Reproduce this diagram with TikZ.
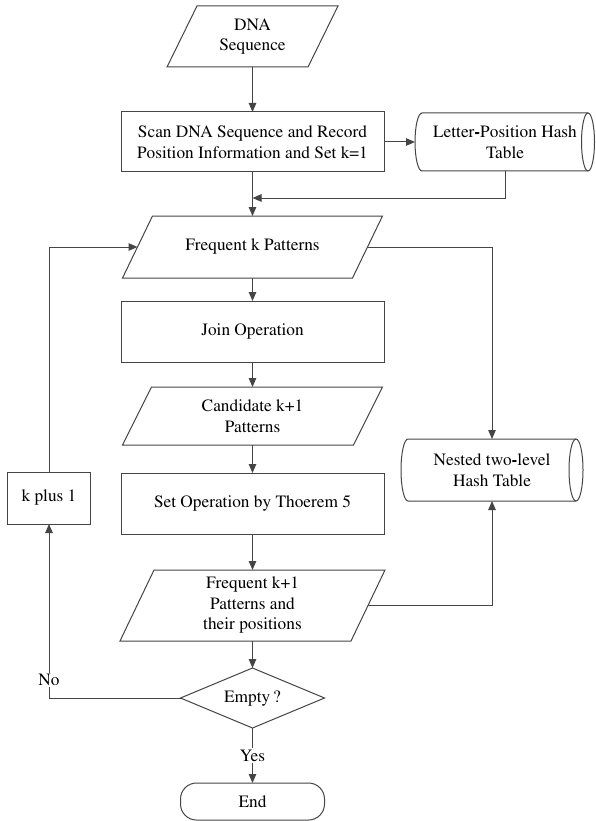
\documentclass[tikz,border=0pt]{standalone}
\usepackage[T1]{fontenc}
\usepackage{mathptmx}
\usetikzlibrary{arrows.meta,calc}
\definecolor{lc}{HTML}{454545}
\newcommand{\drawpara}[2]{\draw[line] ($(#1.north west)+(#2,0)$) -- (#1.north east) -- ($(#1.south east)+(-#2,0)$) -- (#1.south west) -- cycle;}
\newcommand{\bhy}{\textbf{-}}
\begin{document}
\begin{tikzpicture}[x=1pt,y=-1pt,
  line/.style={draw=lc, line width=1pt},
  arr/.style={line, -{Triangle[length=9pt,width=7.5pt]}},
  txt/.style={font=\rmfamily\fontsize{17.3}{20.5}\selectfont, align=center, text=black, inner sep=0pt, outer sep=0pt},
  hid/.style={txt, rectangle},
  boxn/.style={txt, rectangle, line},
  lbl/.style={txt, fill=white, inner sep=1.5pt}]
\fill[white] (0,0) rectangle (596,821);
\useasboundingbox (0,0) rectangle (596,821);

% nodes
\node[hid, minimum width=171pt, minimum height=61pt] (dna) at (252.5,36.5) {DNA\\Sequence};
\node[boxn, minimum width=263pt, minimum height=60pt] (scan) at (252.5,142) {Scan DNA Sequence and Record\\Position Information and Set k=1};
\node[hid, minimum width=166pt, minimum height=58pt] (lp) at (505,142) {Letter\bhy Position Hash\\Table};
\node[hid, minimum width=260pt, minimum height=62pt] (fk) at (252.5,247) {Frequent k Patterns};
\node[boxn, minimum width=263pt, minimum height=61pt] (join) at (252.5,331.5) {Join Operation};
\node[hid, minimum width=260pt, minimum height=58pt] (cand) at (252.5,416) {Candidate k+1\\Patterns};
\node[boxn, minimum width=263pt, minimum height=61pt] (setop) at (252.5,503.5) {Set Operation by Thoerem 5};
\node[hid, minimum width=265pt, minimum height=71pt] (fk1) at (252.5,605.5) {Frequent k+1\\Patterns and\\their positions};
\node[hid, minimum width=144pt, minimum height=60pt] (empty) at (252.5,698) {Empty\,?};
\node[boxn, rounded corners=16pt, minimum width=144pt, minimum height=37pt] (endn) at (252.5,801.5) {End};
\node[boxn, minimum width=83pt, minimum height=52pt] (kp1) at (49,498) {k plus 1};
\node[hid, minimum width=168pt, minimum height=62pt] (nested) at (492,470) {Nested two\bhy level\\Hash Table};

% shapes
\drawpara{dna}{30}
\drawpara{fk}{30}
\drawpara{cand}{29}
\drawpara{fk1}{34}
\draw[line] (empty.north) -- (empty.east) -- (empty.south) -- (empty.west) -- cycle;
\draw[line] (lp.north east) -- (lp.north west) arc[start angle=90, end angle=270, x radius=7pt, y radius=29pt] -- (lp.south east);
\draw[line] (lp.east) ellipse[x radius=6.5pt, y radius=29pt];
\draw[line] (nested.north east) -- (nested.north west) arc[start angle=90, end angle=270, x radius=7pt, y radius=31pt] -- (nested.south east);
\draw[line] (nested.east) ellipse[x radius=7pt, y radius=31pt];

% helper coordinates
\coordinate (lpw) at ($(lp.west)+(-7,0)$);
\coordinate (j) at (dna.south |- 0,198);
\coordinate (fkl) at ($(fk.west)+(15,0)$);
\coordinate (fkr) at ($(fk.east)+(-15,0)$);
\coordinate (fk1r) at ($(fk1.east)+(-17,0)$);

% connectors
\draw[arr] (dna.south) -- (scan.north);
\draw[arr] (scan.east) -- (lpw);
\draw[arr] (scan.south) -- (fk.north);
\draw[arr] (lp.south) |- (j);
\draw[arr] (fk.south) -- (join.north);
\draw[arr] (join.south) -- (cand.north);
\draw[arr] (cand.south) -- (setop.north);
\draw[arr] (setop.south) -- (fk1.north);
\draw[arr] (fk1.south) -- (empty.north);
\draw[arr] (empty.south) -- node[lbl]{Yes} (endn.north);
\draw[arr] (empty.west) -| node[lbl, pos=0.552]{No} (kp1.south);
\draw[arr] (kp1.north) |- (fkl);
\draw[arr] (fkr) -| (nested.north);
\draw[arr] (fk1r) -| (nested.south);
\end{tikzpicture}
\end{document}
